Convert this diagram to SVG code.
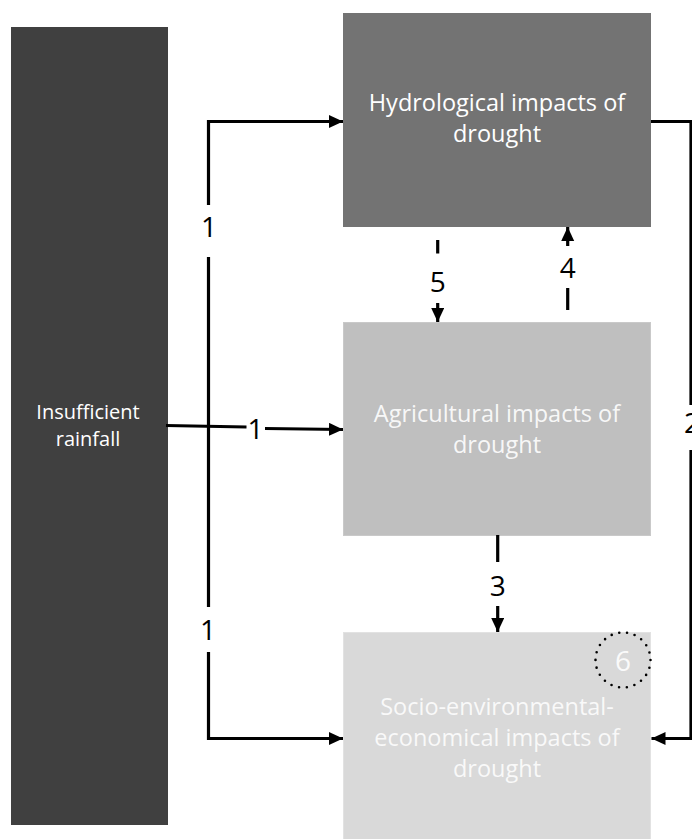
<svg xmlns="http://www.w3.org/2000/svg" width="692" height="839" viewBox="0 0 692 839">
<style>
.lbl{font-family:"Open Sans","Liberation Sans",sans-serif;fill:#ffffff;text-anchor:middle}
.big{font-size:23.5px}
.sm{font-size:20px}
.num{font-family:"Open Sans","Liberation Sans",sans-serif;font-size:28px;fill:#000000;text-anchor:middle}
.ln{fill:none;stroke:#000000;stroke-width:3.2}
</style>
<defs>
<marker id="ah" markerUnits="userSpaceOnUse" markerWidth="15" markerHeight="14" refX="14" refY="6.5" orient="auto">
<path d="M0,0 L14,6.5 L0,13 Z" fill="#000000"/>
</marker>
</defs>
<rect width="692" height="839" fill="#ffffff"/>
<g id="rainfall">
<rect x="11" y="27" width="157" height="798" fill="#404040"/>
<text class="lbl sm" x="88" y="419">Insufficient</text>
<text class="lbl sm" x="88" y="446">rainfall</text>
</g>
<g id="hydrological">
<rect x="343" y="13" width="308" height="214" fill="#737373"/>
<text class="lbl big" x="497" y="111">Hydrological impacts of</text>
<text class="lbl big" x="497" y="142">drought</text>
</g>
<g id="agricultural">
<rect x="343.5" y="322.5" width="307" height="213" fill="#bfbfbf" stroke="#c9c9c9" stroke-width="1"/>
<text class="lbl big" x="497" y="421.5" fill-opacity="0.9">Agricultural impacts of</text>
<text class="lbl big" x="497" y="452.5" fill-opacity="0.9">drought</text>
</g>
<g id="socio">
<rect x="343.5" y="632.5" width="307" height="215" fill="#d9d9d9" stroke="#e2e2e2" stroke-width="1"/>
<text class="lbl big" x="497" y="715" fill-opacity="0.85">Socio-environmental-</text>
<text class="lbl big" x="497" y="746" fill-opacity="0.85">economical impacts of</text>
<text class="lbl big" x="497" y="777" fill-opacity="0.85">drought</text>
<circle cx="623" cy="660" r="27.5" fill="none" stroke="#000000" stroke-width="2.6" stroke-linecap="round" stroke-dasharray="0 7.85"/>
<text class="lbl" x="623" y="671" style="font-size:28px" fill-opacity="0.9">6</text>
</g>
<g id="connectors">
<path class="ln" d="M208.5,205 V121.5 H343" marker-end="url(#ah)"/>
<line class="ln" x1="208.5" y1="257" x2="208.5" y2="607"/>
<path class="ln" d="M208.5,652 V738.5 H343" marker-end="url(#ah)"/>
<line class="ln" x1="166" y1="425.5" x2="246.5" y2="427"/>
<path class="ln" d="M265,428.5 L343,429.5" marker-end="url(#ah)"/>
<path class="ln" d="M651,121.5 H691 V405"/>
<path class="ln" d="M691,450 V738.5 H651.5" marker-end="url(#ah)"/>
<line class="ln" x1="437.7" y1="240" x2="437.7" y2="253.5"/>
<path class="ln" d="M437.7,303 V322" marker-end="url(#ah)"/>
<line class="ln" x1="567.7" y1="310" x2="567.7" y2="288"/>
<path class="ln" d="M567.7,246 V227" marker-end="url(#ah)"/>
<line class="ln" x1="497.7" y1="535" x2="497.7" y2="562"/>
<path class="ln" d="M497.7,606 V632" marker-end="url(#ah)"/>
<text class="num" x="209" y="237">1</text>
<text class="num" x="208" y="640">1</text>
<text class="num" x="255.5" y="439">1</text>
<text class="num" x="437.7" y="292">5</text>
<text class="num" x="567.7" y="278">4</text>
<text class="num" x="497.7" y="596">3</text>
<text class="num" x="692" y="433">2</text>
</g>
</svg>
